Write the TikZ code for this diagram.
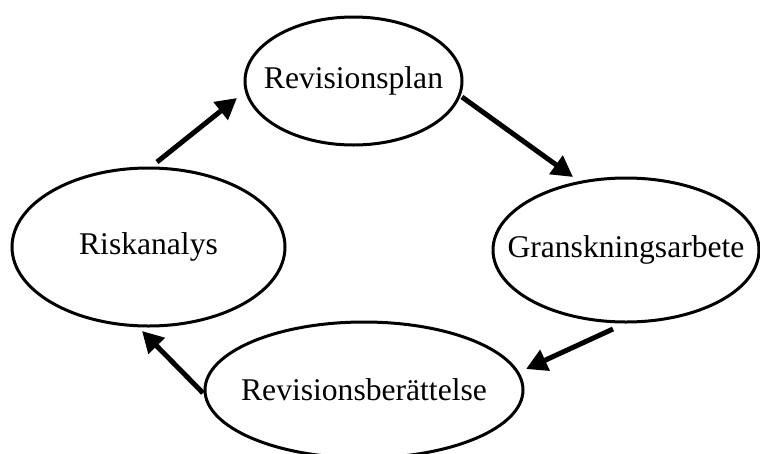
\documentclass[tikz,border=0pt]{standalone}
\usepackage{fontspec}
\setmainfont{Liberation Serif}
\usetikzlibrary{shapes.geometric,arrows.meta}
\newcommand\stagetext[1]{\makebox[0pt]{#1}}
\begin{document}
\begin{tikzpicture}[x=1pt,y=-1pt,
  stage/.style={draw, ellipse, line width=3pt, inner sep=0pt, outer sep=0pt,
    font=\fontsize{31.6}{38}\selectfont},
  flow/.style={line width=5pt, -{Triangle[length=21pt,width=22pt]}}]
\useasboundingbox (0,0) rectangle (760,453);
\node[stage, minimum width=217pt, minimum height=128pt] (rp) at (353.5,81) {\stagetext{Revisionsplan}};
\node[stage, minimum width=266pt, minimum height=144pt] (ga) at (626,250) {\stagetext{Granskningsarbete}};
\node[stage, minimum width=318pt, minimum height=136pt] (rb) at (364,390) {\stagetext{Revisionsberättelse}};
\node[stage, minimum width=273pt, minimum height=158pt] (rk) at (148.5,247) {\stagetext{Riskanalys}};
\coordinate (a1s) at (157,162);
\coordinate (a1e) at (237,98);
\coordinate (a2s) at (462,97);
\coordinate (a2e) at (573,177);
\coordinate (a3s) at (613,329);
\coordinate (a3e) at (526,369);
\coordinate (a4s) at (203,393);
\coordinate (a4e) at (142,331);
\draw[flow] (a1s) -- (a1e);
\draw[flow] (a2s) -- (a2e);
\draw[flow] (a3s) -- (a3e);
\draw[flow] (a4s) -- (a4e);
\end{tikzpicture}
\end{document}
